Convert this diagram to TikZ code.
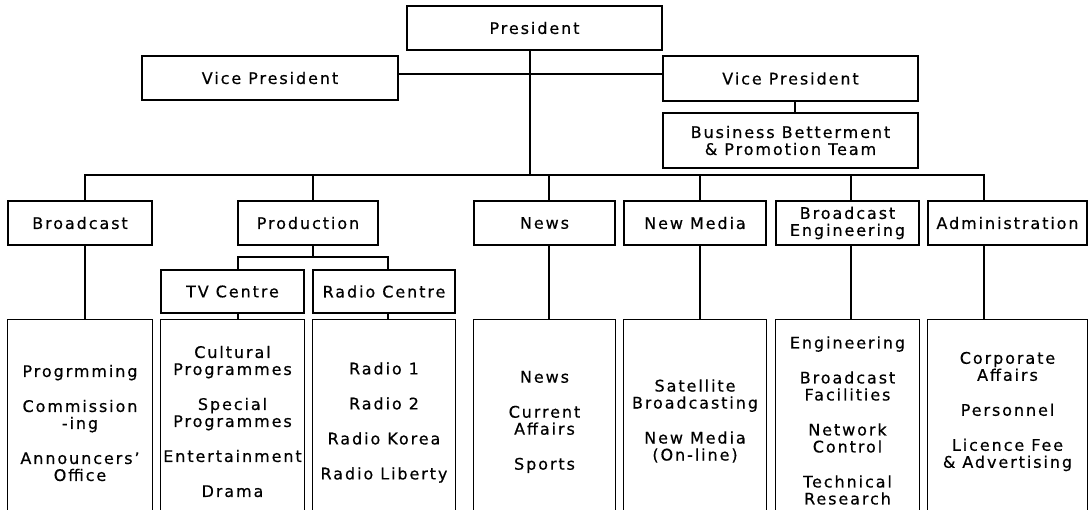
\documentclass[tikz,border=0pt]{standalone}
\usepackage{fontspec}
\setmainfont{DejaVu Sans}[LetterSpace=12,FakeBold=0.5]
\begin{document}
\begin{tikzpicture}[x=1pt,y=-1pt,
  every node/.style={font=\fontsize{16}{17}\selectfont, align=center, inner sep=0pt},
  box/.style={draw, line width=1.2pt},
  frame/.style={minimum width=#1, minimum height=192pt},
  link/.style={line width=1.2pt},
  mainlink/.style={line width=1.8pt},
  sides/.style={line width=1.2pt}]
\fill[white] (0,0) rectangle (1088,510);
\useasboundingbox (0,0) rectangle (1088,510);

% bus levels
\coordinate (bus) at (0,175);
\coordinate (sub) at (0,257);

% top management
\node[box, minimum width=255pt, minimum height=44pt] (pres) at (534.5,28) {President};
\node[box, minimum width=256pt, minimum height=44pt] (vpl) at (270,78) {Vice President};
\node[box, minimum width=255pt, minimum height=45pt] (vpr) at (790.5,78.5) {Vice President};
\node[box, minimum width=255pt, minimum height=55pt] (biz) at (790.5,140.5) {Business Betterment\\\& Promotion Team};

% departments
\node[box, minimum width=144pt, minimum height=44pt] (bc) at (80,223) {Broadcast};
\node[box, minimum width=140pt, minimum height=44pt] (prod) at (308,223) {Production};
\node[box, minimum width=141pt, minimum height=44pt] (news) at (544.5,223) {News};
\node[box, minimum width=142pt, minimum height=44pt] (nm) at (695,223) {New Media};
\node[box, minimum width=143pt, minimum height=44pt] (be) at (847.5,223) {Broadcast\\Engineering};
\node[box, minimum width=159pt, minimum height=44pt] (adm) at (1007.5,223) {Administration};

% production centres
\node[box, minimum width=143pt, minimum height=43pt] (tv) at (232.5,291.5) {TV Centre};
\node[box, minimum width=142pt, minimum height=43pt] (rc) at (384,291.5) {Radio Centre};

% unit lists (open at the foot)
\node[frame=144pt] (b1) at (80,416) {};
\node[frame=143pt] (b2) at (232.5,416) {};
\node[frame=142pt] (b3) at (384,416) {};
\node[frame=141pt] (b4) at (544.5,416) {};
\node[frame=142pt] (b5) at (695,416) {};
\node[frame=143pt] (b6) at (847.5,416) {};
\node[frame=159pt] (b7) at (1007.5,416) {};
\foreach \b in {b1,b2,b3,b4,b5,b6,b7}
  \draw[sides] (\b.south west) -- (\b.north west) -- (\b.north east) -- (\b.south east);

\node (t1) at (80,423) {Progrmming\\[18pt]Commission\\-ing\\[18pt]Announcers’\\Office};
\node (t2) at (232.5,421.5) {Cultural\\Programmes\\[18pt]Special\\Programmes\\[18pt]Entertainment\\[18pt]Drama};
\node (t3) at (384,422.5) {Radio 1\\[18pt]Radio 2\\[18pt]Radio Korea\\[18pt]Radio Liberty};
\node (t4) at (544.5,422) {News\\[18pt]Current\\Affairs\\[18pt]Sports};
\node (t5) at (695,421) {Satellite\\Broadcasting\\[18pt]New Media\\(On-line)};
\node (t6) at (847.5,420.5) {Engineering\\[18pt]Broadcast\\Facilities\\[18pt]Network\\Control\\[18pt]Technical\\Research};
\node (t7) at (1007.5,411.5) {Corporate\\Affairs\\[18pt]Personnel\\[18pt]Licence Fee\\\& Advertising};

% president to the department bus
\draw[mainlink] ([xshift=-4.5pt]pres.south) -- ([xshift=-4.5pt]pres.south |- bus);
% vice presidents
\draw[link] ([yshift=4pt]vpl.east) -- ([yshift=4pt]vpl.east -| vpr.west);
\draw[link] ([xshift=4.5pt]vpr.south) -- ([xshift=4.5pt]biz.north);

% department bus and drops
\draw[link] ([xshift=5pt]bc.north) |- ([xshift=-23.5pt]adm.north |- bus) -- ([xshift=-23.5pt]adm.north);
\draw[link] ([xshift=5pt]prod.north |- bus) -- ([xshift=5pt]prod.north);
\draw[link] ([xshift=4.5pt]news.north |- bus) -- ([xshift=4.5pt]news.north);
\draw[link] ([xshift=5pt]nm.north |- bus) -- ([xshift=5pt]nm.north);
\draw[link] ([xshift=3.5pt]be.north |- bus) -- ([xshift=3.5pt]be.north);

% production to its centres
\draw[link] ([xshift=5pt]prod.south) -- ([xshift=5pt]prod.south |- sub);
\draw[link] ([xshift=5.5pt]tv.north) |- ([xshift=4pt]rc.north |- sub) -- ([xshift=4pt]rc.north);

% departments to their unit lists
\draw[link] ([xshift=5pt]bc.south) -- ([xshift=5pt]bc.south |- b1.north);
\draw[link] ([xshift=5.5pt]tv.south) -- ([xshift=5.5pt]tv.south |- b2.north);
\draw[link] ([xshift=4pt]rc.south) -- ([xshift=4pt]rc.south |- b3.north);
\draw[link] ([xshift=4.5pt]news.south) -- ([xshift=4.5pt]news.south |- b4.north);
\draw[link] ([xshift=5pt]nm.south) -- ([xshift=5pt]nm.south |- b5.north);
\draw[link] ([xshift=3.5pt]be.south) -- ([xshift=3.5pt]be.south |- b6.north);
\draw[link] ([xshift=-23.5pt]adm.south) -- ([xshift=-23.5pt]adm.south |- b7.north);
\end{tikzpicture}
\end{document}
